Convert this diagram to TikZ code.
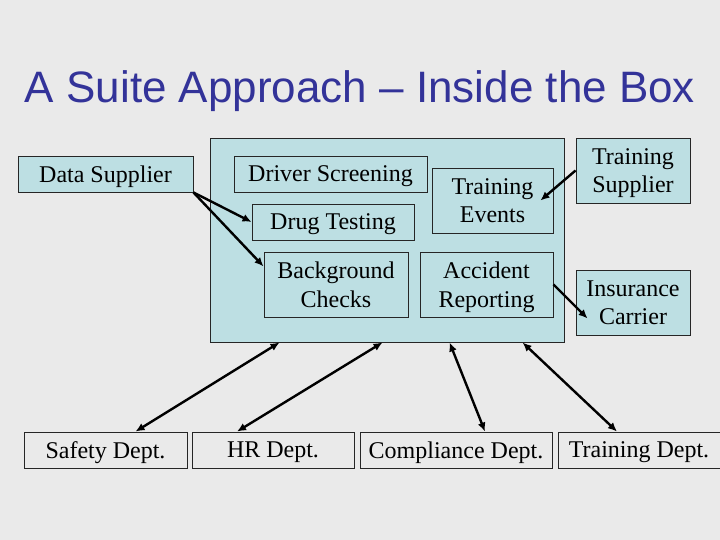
\documentclass[tikz,border=0pt]{standalone}
\usepackage{fontspec}
\setmainfont{Liberation Serif}
\newfontfamily\titlefont{Liberation Sans}
\usetikzlibrary{arrows.meta}
\definecolor{slidebg}{RGB}{234,234,234}
\definecolor{suitefill}{RGB}{189,223,227}
\definecolor{titleblue}{RGB}{51,51,153}
\tikzset{
  box/.style={rectangle,draw=black!85,line width=0.9pt,align=center,inner sep=0pt,text depth=0pt,font=\fontsize{24}{28.5}\selectfont},
  filledbox/.style={box,fill=suitefill},
  dept/.style={box,minimum height=36pt},
  line/.style={-{Latex[length=9pt,width=8pt]},line width=2.4pt},
  twoway/.style={{Latex[length=9pt,width=8pt]}-{Latex[length=9pt,width=8pt]},line width=2.4pt}
}

\begin{document}
\begin{tikzpicture}[x=1pt,y=-1pt]
\fill[slidebg] (0,0) rectangle (720,540);
\useasboundingbox (0,0) rectangle (720,540);
\node[anchor=base,text=titleblue,font=\titlefont\fontsize{44}{50}\selectfont] (title) at (360,103) {A Suite Approach – Inside the Box};
\node[filledbox,minimum width=175pt,minimum height=36pt] (supplier) at (105.5,174) {Data Supplier};
\node[filledbox,minimum width=354pt,minimum height=204pt] (suite) at (387,240) {};
\node[box,minimum width=193pt,minimum height=36pt] (driver) at (330.5,174) {Driver Screening};
\node[box,minimum width=162pt,minimum height=36pt] (drug) at (333,222) {Drug Testing};
\node[box,minimum width=144pt,minimum height=65pt] (checks) at (336,284.5) {Background\\Checks};
\node[box,minimum width=121pt,minimum height=65pt] (events) at (492.5,200.5) {Training\\Events};
\node[box,minimum width=133pt,minimum height=65pt] (accident) at (486.5,284.5) {Accident\\Reporting};
\node[filledbox,minimum width=114pt,minimum height=65pt] (tsupplier) at (633,170.5) {Training\\Supplier};
\node[filledbox,minimum width=114pt,minimum height=65pt] (insurer) at (633,302.5) {Insurance\\Carrier};
\node[dept,minimum width=163pt] (safety) at (105.5,450) {Safety Dept.};
\node[dept,minimum width=162pt] (hr) at (273,450) {HR Dept.};
\node[dept,minimum width=192pt] (compliance) at (456,450) {Compliance Dept.};
\node[dept,minimum width=162pt] (trainingdept) at (639,450) {Training Dept.};
\draw[line] (supplier.south east) -- (drug.west);
\draw[line] (supplier.south east) -- (checks.166);
\draw[line] (tsupplier.west) -- ([xshift=-13pt]events.east);
\draw[line] (accident.east) -- ([xshift=12pt,yshift=-16pt]insurer.west);
\draw[twoway] ([xshift=30pt]safety.north) -- ([xshift=70pt]suite.south west);
\draw[twoway] ([xshift=-36pt]hr.north) -- ([xshift=173pt]suite.south west);
\draw[twoway] ([xshift=29pt]compliance.north) -- ([xshift=240pt]suite.south west);
\draw[twoway] ([xshift=-22pt]trainingdept.north) -- ([xshift=313pt]suite.south west);
\end{tikzpicture}
\end{document}
